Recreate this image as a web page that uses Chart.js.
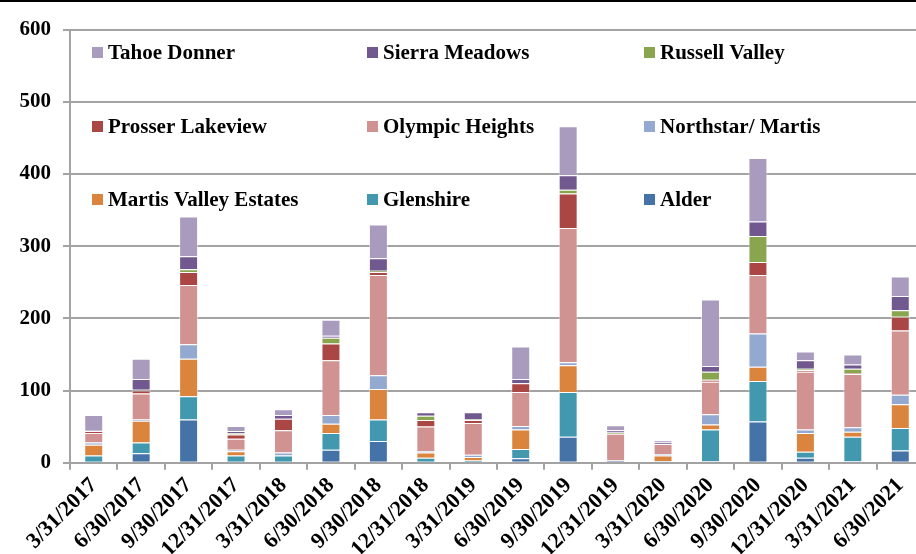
<!DOCTYPE html>
<html>
<head>
<meta charset="utf-8">
<script src="https://cdn.jsdelivr.net/npm/chart.js@4/dist/chart.umd.min.js"></script>
<style>
  html, body { margin: 0; padding: 0; background: #fff; overflow: hidden; }
  #wrap { position: relative; width: 916px; height: 554px; overflow: hidden; }
  #wrap canvas { position: absolute; left: 0; top: 0; }
  #topline { position: absolute; left: 0; top: 0; width: 916px; height: 2px; background: #000; }
</style>
</head>
<body>
<div id="wrap">
  <canvas id="chart" width="924" height="554" style="width:924px;height:554px"></canvas>
  <div id="topline"></div>
</div>
<script>
  // quarter-end dates
  var quarters = ['3/31/2017', '6/30/2017', '9/30/2017', '12/31/2017', '3/31/2018', '6/30/2018',
    '9/30/2018', '12/31/2018', '3/31/2019', '6/30/2019', '9/30/2019', '12/31/2019',
    '3/31/2020', '6/30/2020', '9/30/2020', '12/31/2020', '3/31/2021', '6/30/2021'];

  // stacked bottom -> top
  var alder       = [0, 13, 60, 0, 0, 18, 30, 0, 0, 6, 36, 0, 0, 2, 57, 7, 2, 17];
  var glenshire   = [10, 15, 32, 10, 10, 23, 30, 7, 3, 13, 62, 1, 2, 44, 56, 8, 34, 31];
  var martisValley = [15, 30, 52, 6, 0, 13, 42, 7, 5, 27, 37, 0, 8, 7, 20, 26, 7, 33];
  var northstar   = [3, 2, 20, 2, 4, 12, 19, 2, 3, 5, 4, 2, 2, 14, 46, 5, 6, 13];
  var olympic     = [13, 36, 82, 15, 31, 76, 139, 34, 44, 47, 186, 37, 14, 45, 81, 80, 74, 89];
  var prosser     = [3, 4, 18, 6, 16, 23, 4, 9, 4, 12, 48, 0, 0, 3, 18, 2, 1, 19];
  var russell     = [0, 1, 4, 2, 0, 8, 2, 6, 1, 0, 5, 2, 0, 11, 36, 2, 6, 9];
  var sierra      = [1, 15, 18, 3, 5, 3, 17, 5, 10, 6, 20, 3, 2, 8, 20, 12, 6, 20];
  var tahoe       = [21, 28, 55, 7, 8, 22, 47, 0, 0, 45, 68, 7, 3, 92, 88, 12, 14, 27];

  var yTicks = [0, 100, 200, 300, 400, 500, 600];

  var SERIF = '"Liberation Serif", "DejaVu Serif", serif';
  var GRID = '#a3a3a3';

  function series(label, data, color) {
    return { label: label, data: data, backgroundColor: color,
      borderColor: 'rgba(255,255,255,0.55)', borderWidth: 1,
      barPercentage: 0.4, categoryPercentage: 1 };
  }

  var datasets = [
    series('Alder', alder, '#4572A7'),
    series('Glenshire', glenshire, '#4198AF'),
    series('Martis Valley Estates', martisValley, '#DB843D'),
    series('Northstar/ Martis', northstar, '#93A9CF'),
    series('Olympic Heights', olympic, '#D19392'),
    series('Prosser Lakeview', prosser, '#AA4643'),
    series('Russell Valley', russell, '#89A54E'),
    series('Sierra Meadows', sierra, '#71588F'),
    series('Tahoe Donner', tahoe, '#A99BBD')
  ];

  // legend drawn inside the plot, 3 columns, reversed series order
  var legendInside = {
    id: 'legendInside',
    afterDraw: function (chart) {
      var ctx = chart.ctx, area = chart.chartArea;
      var items = chart.data.datasets.slice().reverse();
      var colX = [22, 297, 574], rowY = [23, 97, 170], box = 11;
      ctx.save();
      ctx.font = 'bold 21px ' + SERIF;
      ctx.textBaseline = 'middle';
      ctx.fillStyle = '#000';
      items.forEach(function (ds, i) {
        var x = area.left + colX[i % 3], y = area.top + rowY[Math.floor(i / 3)];
        ctx.fillStyle = ds.backgroundColor;
        ctx.fillRect(x, y - box / 2, box, box);
        ctx.fillStyle = '#000';
        ctx.fillText(ds.label, x + box + 5, y + 1);
      });
      ctx.restore();
    }
  };

  new Chart(document.getElementById('chart').getContext('2d'), {
    type: 'bar',
    data: { labels: quarters, datasets: datasets },
    plugins: [legendInside],
    options: {
      responsive: false,
      animation: false,
      layout: { padding: { top: 29.5, right: 0, bottom: 0, left: 0 } },
      plugins: { legend: { display: false }, tooltip: { enabled: false } },
      scales: {
        x: {
          stacked: true,
          afterFit: function (s) { s.height = 91.3; },
          grid: { display: true, drawOnChartArea: false, offset: true, tickLength: 7, color: GRID, lineWidth: 2 },
          border: { color: GRID, width: 2 },
          ticks: { color: '#000', font: { family: SERIF, size: 22, weight: 'bold' },
            minRotation: 45, maxRotation: 45, padding: 3, autoSkip: false }
        },
        y: {
          stacked: true, min: 0, max: 600,
          afterFit: function (s) { s.width = 70; },
          afterBuildTicks: function (s) { s.ticks = yTicks.map(function (v) { return { value: v }; }); },
          grid: { color: GRID, lineWidth: 2, tickLength: 7 },
          border: { color: GRID, width: 2 },
          ticks: { color: '#000', font: { family: SERIF, size: 21, weight: 'bold' }, padding: 12 }
        }
      }
    }
  });
</script>
</body>
</html>
